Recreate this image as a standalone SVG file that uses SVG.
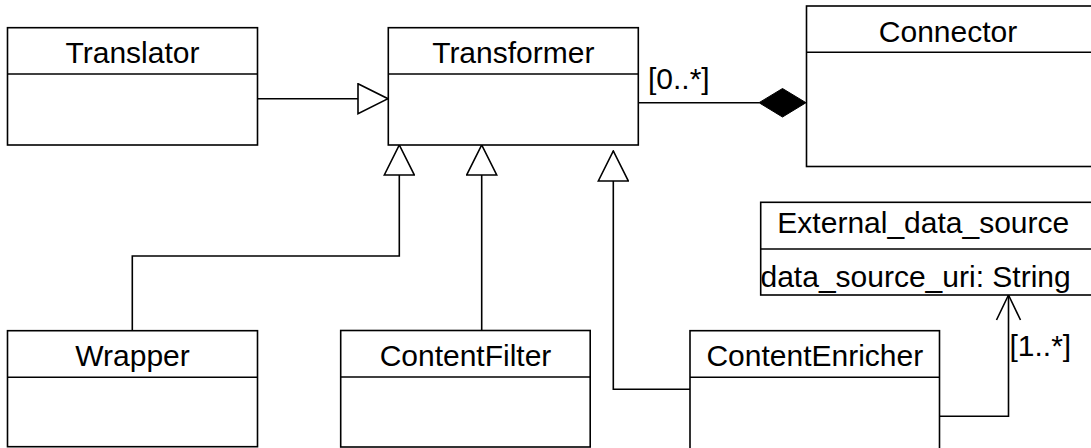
<svg xmlns="http://www.w3.org/2000/svg" width="1091" height="448" viewBox="0 0 1091 448">
<style>
.box{fill:#fff;stroke:#000;stroke-width:1.6}
.ln{fill:none;stroke:#000;stroke-width:1.6}
.t{font-family:"Liberation Sans",Arial,sans-serif;font-size:30px;fill:#000}
.c{text-anchor:middle}
</style>
<defs>
<marker id="gen" viewBox="0 0 32 32" markerWidth="32" markerHeight="32" refX="31" refY="16" orient="auto" markerUnits="userSpaceOnUse">
<path d="M1,1 L31,16 L1,31 Z" fill="#fff" stroke="#000" stroke-width="1.6"/>
</marker>
<marker id="comp" viewBox="0 0 48 30" markerWidth="48" markerHeight="30" refX="0" refY="15" orient="auto" markerUnits="userSpaceOnUse">
<path d="M0,15 L24,1 L48,15 L24,29 Z" fill="#000" stroke="#000" stroke-width="1"/>
</marker>
<marker id="open" viewBox="0 0 30 30" markerWidth="30" markerHeight="30" refX="27" refY="15" orient="auto" markerUnits="userSpaceOnUse">
<path d="M2,3 L27,15 L2,27" fill="none" stroke="#000" stroke-width="1.6"/>
</marker>
</defs>
<g id="connectors">
<path class="ln" d="M257.5,98.7 L388,98.7" marker-end="url(#gen)"/>
<path class="ln" d="M638,102.7 L759,102.7"/>
<path d="M759,102.7 L782.5,88.5 L806,102.7 L782.5,117 Z" fill="#000" stroke="#000" stroke-width="1"/>
<path class="ln" d="M132.3,330.7 L132.3,256 L399.3,256 L399.3,145" marker-end="url(#gen)"/>
<path class="ln" d="M481.7,330.7 L481.7,145" marker-end="url(#gen)"/>
<path class="ln" d="M690,389.3 L613.3,389.3 L613.3,151" marker-end="url(#gen)"/>
<path class="ln" d="M939.5,416.3 L1008.5,416.3 L1008.5,295" marker-end="url(#open)"/>
<text class="t" x="648" y="88.5">[0..*]</text>
<text class="t" x="1009.5" y="355.7">[1..*]</text>
</g>
<g id="Translator">
<rect class="box" x="7.5" y="27.7" width="250" height="117.3"/>
<path class="ln" d="M7.5,74 L257.5,74"/>
<text class="t c" x="132.5" y="62.7">Translator</text>
</g>
<g id="Transformer">
<rect class="box" x="388.3" y="27.7" width="250" height="117.3"/>
<path class="ln" d="M388.3,74 L638.3,74"/>
<text class="t c" x="513.3" y="62.7">Transformer</text>
</g>
<g id="Connector">
<rect class="box" x="806.5" y="6" width="300" height="160.5"/>
<path class="ln" d="M806.5,52.3 L1106.5,52.3"/>
<text class="t c" x="948" y="41.7">Connector</text>
</g>
<g id="External_data_source">
<rect class="box" x="760.7" y="202.3" width="340" height="92.7"/>
<path class="ln" d="M760.7,249 L1100.7,249"/>
<text class="t c" x="923.3" y="233.3">External_data_source</text>
<text class="t" x="760.5" y="286.7">data_source_uri: String</text>
</g>
<g id="Wrapper">
<rect class="box" x="7.5" y="330.7" width="250" height="116"/>
<path class="ln" d="M7.5,377.3 L257.5,377.3"/>
<text class="t c" x="132.5" y="365.7">Wrapper</text>
</g>
<g id="ContentFilter">
<rect class="box" x="340.7" y="330.5" width="249.5" height="116.5"/>
<path class="ln" d="M340.7,377 L590.2,377"/>
<text class="t c" x="465.5" y="366">ContentFilter</text>
</g>
<g id="ContentEnricher">
<rect class="box" x="690" y="330.7" width="249.5" height="130"/>
<path class="ln" d="M690,377.3 L939.5,377.3"/>
<text class="t c" x="814.8" y="365.5">ContentEnricher</text>
</g>
</svg>
